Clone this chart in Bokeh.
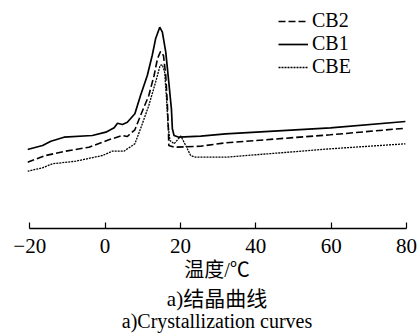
from bokeh.plotting import figure
from bokeh.models import Range1d, Legend, LegendItem, Title, FixedTicker
from bokeh.embed import file_html
from bokeh.resources import INLINE

# ---- data (y in arbitrary heat-flow units) ----
cb1_t = [-20.6, -16.6, -14.4, -10.9, -3.4, 0.2, 2.4, 3.3, 4.6, 5.9, 7.9, 9.4, 11.2, 12.5,
         13.4, 14.5, 15.2, 16.1, 16.9, 17.6, 17.85, 18.3, 19.6, 25.4, 32.0, 59.8, 79.7]
cb1_h = [7.90, 8.30, 8.73, 9.13, 9.30, 9.63, 10.07, 10.53, 10.40, 10.63, 11.47, 13.30, 15.30, 17.30,
         18.97, 20.13, 19.63, 17.63, 14.63, 11.97, 9.97, 9.30, 9.13, 9.23, 9.47, 10.07, 10.70]

cb2_t = [-20.6, -15.8, -10.5, -4.3, 1.0, 4.6, 5.9, 7.9, 9.4, 11.6, 13.0, 13.9, 14.7, 15.5,
         16.1, 16.5, 16.8, 16.9, 18.3, 25.4, 32.0, 59.8, 79.7]
cb2_h = [6.63, 7.30, 7.73, 8.13, 8.87, 9.30, 9.20, 9.87, 11.30, 13.30, 15.30, 16.97, 17.70, 17.30,
         15.30, 12.63, 9.97, 8.30, 8.13, 8.23, 8.57, 9.37, 10.03]

cbe_t = [-20.6, -16.6, -14.0, -7.8, -0.7, 1.9, 5.0, 7.9, 9.4, 11.6, 13.4, 14.6, 15.2, 15.8,
         16.3, 16.7, 17.2, 18.3, 20.1, 21.4, 22.7, 24.0, 32.0, 59.8, 79.7]
cbe_h = [5.73, 6.07, 6.47, 6.73, 7.30, 7.73, 7.73, 8.47, 9.97, 12.30, 14.63, 16.30, 16.37, 15.63,
         12.97, 10.30, 8.80, 8.47, 9.25, 8.30, 7.30, 7.13, 7.13, 7.97, 8.47]

x_ticks = [-20, 0, 20, 40, 60, 80]
tick_labels = {-20: "\u221220", 0: "0", 20: "20", 40: "40", 60: "60", 80: "80"}

series_names = ["CB2", "CB1", "CBE"]
x_label = "温度/℃"
caption_cn = "a)结晶曲线"
caption_en = "a)Crystallization curves"

LATIN = "Liberation Serif"
CJK = "Liberation Serif, Noto Sans CJK SC"

p = figure(frame_width=379, frame_height=220, output_backend="svg", toolbar_location=None,
           x_range=Range1d(-20.6, 80), y_range=Range1d(0, 22),
           min_border_left=27, min_border_right=12, min_border_top=8, min_border_bottom=105)
p.background_fill_color = "white"
p.border_fill_color = "white"
p.outline_line_color = None
p.grid.visible = False
p.yaxis.visible = False

ax = p.xaxis[0]
ax.bounds = (-20, 80)
ax.ticker = FixedTicker(ticks=x_ticks)
ax.major_label_overrides = tick_labels
ax.major_tick_in = 6
ax.major_tick_out = 0
ax.minor_tick_line_color = None
ax.axis_line_width = 1.6
ax.major_tick_line_width = 1.2
ax.axis_line_color = "black"
ax.major_tick_line_color = "black"
ax.major_label_text_font = LATIN
ax.major_label_text_font_size = "21px"
ax.major_label_text_color = "black"
ax.major_label_standoff = 10
ax.axis_label = x_label
ax.axis_label_text_font = CJK
ax.axis_label_text_font_size = "20px"
ax.axis_label_text_font_style = "normal"
ax.axis_label_text_color = "black"
ax.axis_label_standoff = 3

r2 = p.line(cb2_t, cb2_h, line_color="black", line_width=1.6, line_dash="7 3")
r1 = p.line(cb1_t, cb1_h, line_color="black", line_width=1.7)
re = p.line(cbe_t, cbe_h, line_color="black", line_width=1.3, line_dash="2 1")

legend = Legend(items=[LegendItem(label=series_names[0], renderers=[r2]),
                       LegendItem(label=series_names[1], renderers=[r1]),
                       LegendItem(label=series_names[2], renderers=[re])],
                location=(251, 150), padding=0, spacing=0, glyph_width=30, glyph_height=20,
                label_height=20, label_standoff=4, border_line_color=None,
                background_fill_alpha=0, label_text_font=LATIN,
                label_text_font_size="20px", label_text_color="black")
p.add_layout(legend)

t1 = Title(text=caption_cn, align="center", text_font=CJK, text_font_size="21px",
           text_font_style="normal", text_color="black", standoff=3)
t2 = Title(text=caption_en, align="center", text_font=LATIN, text_font_size="20px",
           text_font_style="normal", text_color="black", standoff=-10)
p.add_layout(t1, "below")
p.add_layout(t2, "below")

open("out.html", "w").write(file_html(p, INLINE))
